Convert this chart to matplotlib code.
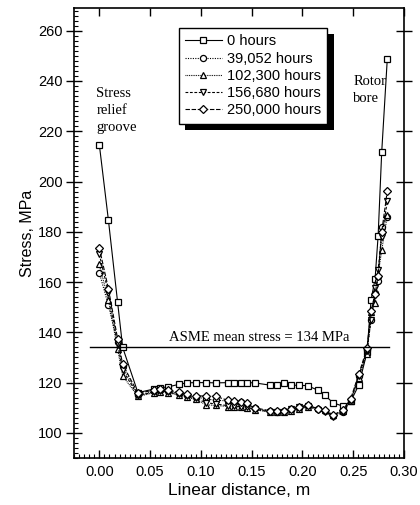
import matplotlib
matplotlib.use("Agg")
import matplotlib.pyplot as plt
from matplotlib import patheffects
from matplotlib.ticker import MultipleLocator, FormatStrFormatter

# ---------------- data ----------------
distance = [0.000, 0.009, 0.018, 0.023, 0.038, 0.054, 0.060, 0.068, 0.078, 0.086,
            0.095, 0.105, 0.115, 0.127, 0.133, 0.139, 0.145, 0.153, 0.168, 0.175,
            0.182, 0.189, 0.197, 0.205, 0.215, 0.222, 0.230, 0.240, 0.2475, 0.2555,
            0.2635, 0.2675, 0.2715, 0.2745, 0.278, 0.2835]

stress_0h = [214.7, 184.5, 152.0, 134.0, 116.0, 117.5, 118.0, 118.3, 119.3, 119.9,
             120.0, 120.0, 119.9, 120.0, 120.0, 120.0, 120.0, 119.9, 119.0, 119.1,
             119.8, 119.0, 118.9, 118.8, 117.0, 115.0, 112.0, 110.6, 112.5, 119.1,
             132.0, 152.8, 161.3, 178.5, 211.6, 248.7]

stress_39k = [163.7, 150.7, 136.0, 126.5, 115.0, 116.5, 117.0, 116.6, 115.8, 115.0,
              114.3, 113.5, 113.0, 112.7, 112.4, 112.2, 111.5, 109.8, 108.6, 108.5,
              108.6, 109.3, 110.0, 110.8, 109.4, 108.8, 106.8, 108.5, 113.0, 122.5,
              133.0, 145.0, 155.5, 160.6, 182.0, 185.7]

stress_102k = [167.0, 152.8, 133.3, 122.7, 114.5, 116.0, 116.3, 116.0, 115.0, 114.2,
               113.3, 111.2, 110.9, 110.5, 110.3, 110.2, 110.1, 109.2, 108.3, 108.2,
               108.3, 108.9, 109.6, 110.3, 109.8, 109.2, 107.2, 108.8, 112.6, 122.0,
               131.5, 148.0, 151.5, 163.0, 172.6, 186.5]

stress_156k = [171.0, 155.7, 135.3, 125.0, 114.8, 116.3, 116.6, 116.3, 115.3, 114.5,
               113.8, 112.0, 111.5, 110.8, 110.6, 110.5, 110.3, 109.4, 108.4, 108.4,
               108.5, 109.5, 110.2, 110.6, 109.2, 108.5, 106.4, 108.2, 112.8, 122.8,
               132.5, 144.8, 157.5, 165.0, 178.0, 192.1]

stress_250k = [173.6, 157.3, 137.5, 127.3, 115.8, 117.0, 117.3, 117.0, 116.2, 115.5,
               114.8, 114.6, 114.5, 112.9, 112.6, 112.4, 111.8, 110.0, 108.8, 108.7,
               108.8, 109.6, 110.3, 111.2, 109.6, 109.0, 107.0, 109.2, 113.6, 123.5,
               133.6, 148.5, 155.4, 162.5, 179.9, 196.3]

series_labels = ["0 hours", "39,052 hours", "102,300 hours", "156,680 hours", "250,000 hours"]
asme_stress = 134
asme_span = [-0.009, 0.285]

# ---------------- figure ----------------
plt.rcParams['font.family'] = ['Liberation Sans', 'DejaVu Sans']
fig = plt.figure(figsize=(4.2, 5.05), dpi=100)
ax = fig.add_axes([0.176, 0.093, 0.786, 0.891])

styles = [
    dict(marker='s', linestyle='-', ms=5.0),
    dict(marker='o', linestyle=(0, (1, 1.2)), ms=4.4),
    dict(marker='^', linestyle=(0, (0.8, 0.8)), ms=4.8),
    dict(marker='v', linestyle=(0, (2.5, 1.5)), ms=4.8),
    dict(marker='D', linestyle=(0, (4, 1.5)), ms=4.0),
]
all_series = [stress_0h, stress_39k, stress_102k, stress_156k, stress_250k]
for vals, lab, st in zip(all_series, series_labels, styles):
    ax.plot(distance, vals, color='black', lw=0.8, marker=st['marker'],
            linestyle=st['linestyle'], ms=st['ms'], mfc='white', mec='black',
            mew=0.9, label=lab)

ax.plot(asme_span, [asme_stress, asme_stress], color='black', lw=1.0)

ax.set_xlim(-0.025, 0.30)
ax.set_ylim(90, 269)
ax.xaxis.set_major_locator(MultipleLocator(0.05))
ax.xaxis.set_minor_locator(MultipleLocator(0.005))
ax.xaxis.set_major_formatter(FormatStrFormatter('%.2f'))
ax.yaxis.set_major_locator(MultipleLocator(20))
ax.yaxis.set_minor_locator(MultipleLocator(2))

ax.tick_params(axis='x', which='major', direction='in', length=6, width=1,
               top=True, labelsize=10.5, pad=5)
ax.tick_params(axis='x', which='minor', direction='in', length=3, width=0.8,
               top=False)
ax.tick_params(axis='y', which='major', direction='inout', length=12, width=1,
               right=True, labelsize=10.5, pad=2)
ax.tick_params(axis='y', which='minor', direction='in', length=3, width=0.8,
               right=False)
for sp in ax.spines.values():
    sp.set_linewidth(1.2)

ax.set_xlabel("Linear distance, m", fontsize=12.5, labelpad=3)
ax.set_ylabel("Stress, MPa", fontsize=11.5, labelpad=2)

serif = ['Liberation Serif', 'DejaVu Serif']
ax.text(-0.003, 237.5, "Stress\nrelief\ngroove", family=serif, fontsize=10.5,
        ha='left', va='top', linespacing=1.4)
ax.text(0.250, 242.5, "Rotor\nbore", family=serif, fontsize=10.5,
        ha='left', va='top', linespacing=1.4)
ax.text(0.069, 136.5, "ASME mean stress = 134 MPa", family=serif, fontsize=10.5,
        ha='left', va='baseline')

leg = ax.legend(loc='upper left', bbox_to_anchor=(0.317, 0.956), fontsize=10.5,
                frameon=True, fancybox=False, framealpha=1, edgecolor='black',
                handlelength=2.5, handletextpad=0.35, labelspacing=0.22,
                borderpad=0.45, borderaxespad=0, numpoints=1)
leg.get_frame().set_linewidth(1.0)
leg.get_frame().set_path_effects([
    patheffects.SimplePatchShadow(offset=(4.5, -4.5), shadow_rgbFace='black', alpha=1.0),
    patheffects.Normal()])

fig.savefig("out.png", dpi=100)
